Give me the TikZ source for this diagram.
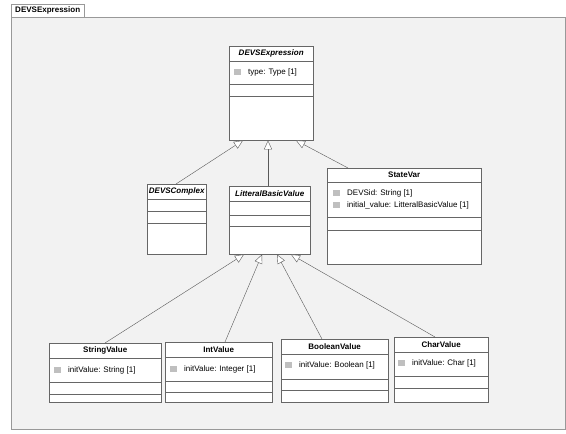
\documentclass[tikz,border=0pt]{standalone}
\usepackage{fontspec}
\setmainfont{Liberation Sans}
\usetikzlibrary{arrows.meta}
\colorlet{frame edge}{black!40}
\colorlet{frame area}{black!5}
\colorlet{box edge}{black!60}
\colorlet{icon area}{black!25}
\tikzset{classbox/.style={draw=box edge, fill=white, inner sep=0pt, anchor=north west},
    classname/.style={font=\fontsize{8}{9}\selectfont\bfseries, inner sep=0pt},
    abstractname/.style={font=\fontsize{8}{9}\selectfont\bfseries\itshape, inner sep=0pt},
    attr/.style={font=\fontsize{8}{9}\selectfont, inner sep=0pt, anchor=west},
    divider/.style={draw=box edge},
    icon/.style={fill=icon area},
    inherit/.style={draw=black!65, -{Triangle[fill=white, length=9pt, width=8pt]}}}

\begin{document}
\begin{tikzpicture}[x=1pt, y=-1pt]
    \useasboundingbox (0,0) rectangle (566,434);
    % package frame
    \draw[frame edge, fill=frame area] (11,17) rectangle (565,429);
    \node[draw=frame edge, fill=white, inner sep=0pt, anchor=south west,
          minimum width=73pt, minimum height=13pt,
          font=\fontsize{8}{9}\selectfont\bfseries] (pkg) at (11,17) {DEVSExpression};

    % top class
    \node[classbox, minimum width=84pt, minimum height=94pt] (expr) at (229,46) {};
    \path (expr.north) ++(0,7.5) node[abstractname] (expr-t) {DEVSExpression};
    \foreach \y in {61,84,96}
        \draw[divider] (expr.west |- 0,\y) -- (expr.east |- 0,\y);
    \fill[icon] (234,69) rectangle ++(7,6);
    \node[attr] (expr-a) at (248,72) {type: Type [1]};

    % middle row
    \node[classbox, minimum width=59pt, minimum height=70pt] (cplx) at (147,184) {};
    \path (cplx.north) ++(0,7.5) node[abstractname] (cplx-t) {DEVSComplex};
    \foreach \y in {199,211,223}
        \draw[divider] (cplx.west |- 0,\y) -- (cplx.east |- 0,\y);

    \node[classbox, minimum width=81pt, minimum height=68pt] (lbv) at (229,186) {};
    \path (lbv.north) ++(0,7.5) node[abstractname] (lbv-t) {LitteralBasicValue};
    \foreach \y in {201,215,226}
        \draw[divider] (lbv.west |- 0,\y) -- (lbv.east |- 0,\y);

    \node[classbox, minimum width=154pt, minimum height=96pt] (state) at (327,168) {};
    \path (state.north) ++(0,7) node[classname] (state-t) {StateVar};
    \foreach \y in {182,217,230}
        \draw[divider] (state.west |- 0,\y) -- (state.east |- 0,\y);
    \fill[icon] (333,190) rectangle ++(7,6);
    \fill[icon] (333,202) rectangle ++(7,6);
    \node[attr] (state-a) at (347,193) {DEVSid: String [1]};
    \node[attr] (state-b) at (347,205) {initial\_value: LitteralBasicValue [1]};

    % bottom row
    \node[classbox, minimum width=112pt, minimum height=59pt] (str) at (49,343) {};
    \path (str.north) ++(0,7.5) node[classname] (str-t) {StringValue};
    \foreach \y in {358,382,394}
        \draw[divider] (str.west |- 0,\y) -- (str.east |- 0,\y);
    \fill[icon] (54,367) rectangle ++(7,6);
    \node[attr] (str-a) at (68,370) {initValue: String [1]};

    \node[classbox, minimum width=107pt, minimum height=60pt] (int) at (165,342) {};
    \path (int.north) ++(0,7.5) node[classname] (int-t) {IntValue};
    \foreach \y in {357,381,392}
        \draw[divider] (int.west |- 0,\y) -- (int.east |- 0,\y);
    \fill[icon] (170,366) rectangle ++(7,6);
    \node[attr] (int-a) at (184,369) {initValue: Integer [1]};

    \node[classbox, minimum width=107pt, minimum height=63pt] (bool) at (281,339) {};
    \path (bool.north) ++(0,7.5) node[classname] (bool-t) {BooleanValue};
    \foreach \y in {354,379,390}
        \draw[divider] (bool.west |- 0,\y) -- (bool.east |- 0,\y);
    \fill[icon] (285,362) rectangle ++(7,6);
    \node[attr] (bool-a) at (299,365) {initValue: Boolean [1]};

    \node[classbox, minimum width=94pt, minimum height=65pt] (char) at (394,337) {};
    \path (char.north) ++(0,7.5) node[classname] (char-t) {CharValue};
    \foreach \y in {352,376,388}
        \draw[divider] (char.west |- 0,\y) -- (char.east |- 0,\y);
    \fill[icon] (398,360) rectangle ++(7,6);
    \node[attr] (char-a) at (412,363) {initValue: Char [1]};

    % generalisations
    \draw[inherit] ([xshift=29pt]cplx.north west) -- ([xshift=14pt]expr.south west);
    \draw[inherit] ([xshift=39pt]lbv.north west) -- ([xshift=39pt]expr.south west);
    \draw[inherit] ([xshift=21pt]state.north west) -- ([xshift=67pt]expr.south west);
    \draw[inherit] ([xshift=56pt]str.north west) -- ([xshift=15pt]lbv.south west);
    \draw[inherit] ([xshift=60pt]int.north west) -- ([xshift=33pt]lbv.south west);
    \draw[inherit] ([xshift=41pt]bool.north west) -- ([xshift=48pt]lbv.south west);
    \draw[inherit] ([xshift=41pt]char.north west) -- ([xshift=62pt]lbv.south west);
\end{tikzpicture}
\end{document}
